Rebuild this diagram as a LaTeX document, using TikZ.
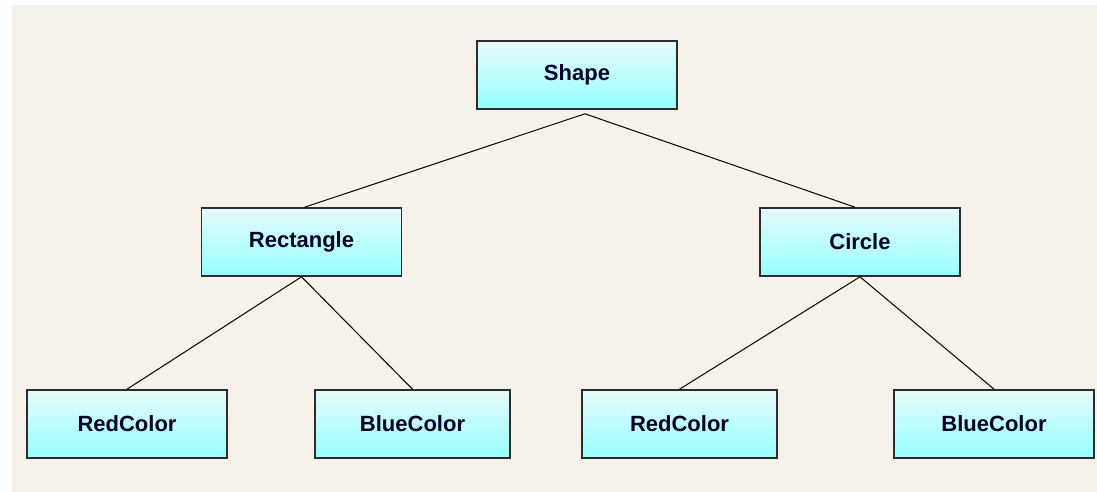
\documentclass[tikz,border=0pt]{standalone}
\usepackage{fontspec}
\setmainfont{Liberation Sans}
\usetikzlibrary{calc}
\definecolor{paper}{RGB}{246,242,233}
\definecolor{boxtop}{RGB}{230,250,250}
\definecolor{boxbot}{RGB}{150,255,255}
\definecolor{boxline}{RGB}{45,45,45}
\tikzset{
  classbox/.style={draw=boxline, line width=1.6pt, top color=boxtop, bottom color=boxbot,
    minimum width=200pt, minimum height=68pt, inner sep=0pt,
    font=\fontsize{22}{26}\selectfont\bfseries, text=black!85!blue},
  link/.style={line width=1pt, black}
}
\begin{document}
\begin{tikzpicture}[x=1pt, y=-1pt]
  % Page and paper
  \useasboundingbox (0,0) rectangle (1097,491);
  \fill[white] (0,0) rectangle (1097,491);
  \fill[paper] (12,5) rectangle (1100,495);

  % Class boxes
  \node[classbox] (shape) at (577,75) {Shape};
  \node[classbox] (rect) at (301.5,242) {Rectangle};
  \node[classbox] (circ) at (860,242) {Circle};
  \node[classbox] (rectred) at (127,424) {RedColor};
  \node[classbox, minimum width=195pt] (rectblue) at (412.5,424) {BlueColor};
  \node[classbox, minimum width=195pt] (circred) at (679.5,424) {RedColor};
  \node[classbox] (circblue) at (994,424) {BlueColor};

  % Links
  \coordinate (apex) at ([xshift=8pt, yshift=-4pt]shape.south);
  \draw[link] (apex) -- ([xshift=3pt]rect.north);
  \draw[link] (apex) -- ([xshift=-5pt]circ.north);
  \draw[link] (rect.south) -- (rectred.north);
  \draw[link] (rect.south) -- (rectblue.north);
  \draw[link] (circ.south) -- (circred.north);
  \draw[link] (circ.south) -- (circblue.north);
\end{tikzpicture}
\end{document}
